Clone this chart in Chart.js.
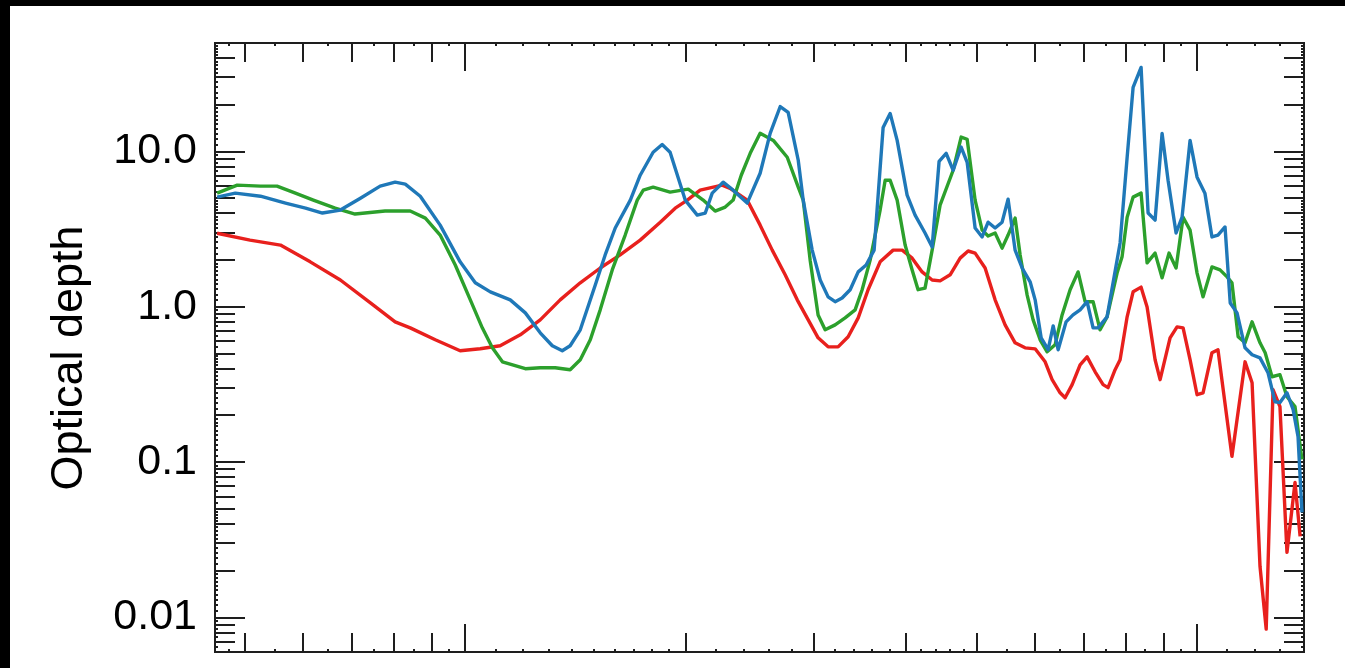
<!DOCTYPE html>
<html>
<head>
<meta charset="utf-8">
<script src="https://cdn.jsdelivr.net/npm/chart.js@4.4.1/dist/chart.umd.min.js"></script>
<style>
  html, body { margin: 0; padding: 0; background: #000; overflow: hidden; }
  #wrap { position: absolute; left: 10px; top: 6px; width: 1335px; height: 662px; background: #fff; }
  canvas { display: block; }
</style>
</head>
<body>
<div id="wrap"><canvas id="chart"></canvas></div>
<script>
// Wavelength samples and optical depth for each curve
const redWavelength = [0.458, 0.508, 0.559, 0.614, 0.675, 0.742, 0.802, 0.841, 0.910, 0.984, 1.048, 1.116, 1.189, 1.266, 1.348, 1.436, 1.529, 1.628, 1.734, 1.847, 1.936, 2.011, 2.094, 2.244, 2.301, 2.428, 2.529, 2.627, 2.736, 2.842, 2.942, 3.035, 3.132, 3.232, 3.336, 3.443, 3.552, 3.689, 3.843, 3.954, 4.080, 4.210, 4.345, 4.455, 4.598, 4.745, 4.866, 4.974, 5.133, 5.297, 5.466, 5.641, 5.821, 6.008, 6.200, 6.338, 6.499, 6.602, 6.750, 6.921, 7.075, 7.256, 7.440, 7.557, 7.727, 7.849, 8.025, 8.177, 8.385, 8.545, 8.763, 8.902, 9.186, 9.390, 9.570, 9.782, 10.0, 10.19, 10.48, 10.68, 11.16, 11.63, 11.89, 12.19, 12.43, 12.70, 12.98, 13.27, 13.61, 13.83];
const redDepth = [2.98, 2.69, 2.50, 1.95, 1.49, 1.06, 0.80, 0.733, 0.614, 0.522, 0.538, 0.562, 0.661, 0.825, 1.11, 1.43, 1.78, 2.16, 2.69, 3.51, 4.32, 4.87, 5.64, 6.08, 5.80, 4.87, 3.36, 2.32, 1.61, 1.11, 0.825, 0.632, 0.553, 0.553, 0.642, 0.850, 1.29, 1.95, 2.32, 2.32, 2.06, 1.68, 1.49, 1.47, 1.61, 2.06, 2.29, 2.22, 1.78, 1.11, 0.766, 0.587, 0.545, 0.537, 0.443, 0.340, 0.280, 0.260, 0.316, 0.424, 0.477, 0.382, 0.316, 0.302, 0.394, 0.457, 0.863, 1.25, 1.34, 1.00, 0.457, 0.340, 0.632, 0.744, 0.733, 0.457, 0.272, 0.280, 0.507, 0.530, 0.109, 0.443, 0.325, 0.0214, 0.00842, 0.293, 0.228, 0.0263, 0.0741, 0.0333];

const greenWavelength = [0.458, 0.488, 0.525, 0.553, 0.586, 0.620, 0.664, 0.707, 0.777, 0.841, 0.882, 0.924, 0.969, 1.016, 1.055, 1.089, 1.124, 1.170, 1.208, 1.266, 1.327, 1.391, 1.436, 1.482, 1.529, 1.588, 1.654, 1.718, 1.751, 1.806, 1.905, 2.017, 2.114, 2.195, 2.266, 2.323, 2.383, 2.451, 2.529, 2.636, 2.754, 2.851, 2.896, 2.960, 3.035, 3.103, 3.202, 3.304, 3.410, 3.486, 3.575, 3.689, 3.748, 3.807, 3.892, 3.991, 4.080, 4.157, 4.249, 4.345, 4.455, 4.642, 4.760, 4.851, 4.974, 5.085, 5.182, 5.297, 5.415, 5.518, 5.641, 5.731, 5.859, 5.970, 6.103, 6.239, 6.397, 6.540, 6.707, 6.877, 7.031, 7.210, 7.370, 7.534, 7.775, 7.898, 8.025, 8.177, 8.385, 8.545, 8.763, 8.958, 9.155, 9.361, 9.570, 9.782, 10.0, 10.19, 10.48, 10.75, 10.99, 11.16, 11.38, 11.63, 11.89, 12.19, 12.39, 12.66, 12.98, 13.27, 13.61, 13.91];
const greenDepth = [5.40, 6.08, 5.99, 5.99, 5.40, 4.87, 4.32, 3.96, 4.14, 4.14, 3.73, 2.90, 1.86, 1.11, 0.733, 0.545, 0.443, 0.418, 0.400, 0.406, 0.406, 0.394, 0.457, 0.614, 0.957, 1.73, 2.90, 4.87, 5.64, 5.90, 5.48, 5.73, 4.87, 4.14, 4.39, 4.87, 7.04, 9.75, 13.1, 11.8, 9.19, 5.90, 4.87, 2.00, 0.888, 0.712, 0.766, 0.850, 0.957, 1.29, 2.00, 4.20, 6.54, 6.54, 4.87, 2.50, 1.73, 1.29, 1.32, 2.32, 4.52, 7.58, 12.4, 12.0, 4.87, 3.12, 2.86, 2.99, 2.39, 2.90, 3.73, 2.16, 1.19, 0.825, 0.614, 0.514, 0.570, 0.888, 1.29, 1.68, 1.08, 1.08, 0.712, 0.863, 1.65, 2.10, 3.78, 5.09, 5.40, 1.92, 2.22, 1.54, 2.22, 1.78, 3.78, 3.12, 1.65, 1.16, 1.81, 1.73, 1.56, 1.43, 0.642, 0.587, 0.801, 0.587, 0.507, 0.355, 0.366, 0.264, 0.228, 0.104];

const blueWavelength = [0.458, 0.485, 0.525, 0.568, 0.605, 0.638, 0.675, 0.719, 0.765, 0.802, 0.828, 0.868, 0.924, 0.984, 1.032, 1.082, 1.152, 1.208, 1.266, 1.315, 1.357, 1.391, 1.436, 1.505, 1.553, 1.603, 1.681, 1.734, 1.806, 1.858, 1.905, 1.998, 2.075, 2.128, 2.175, 2.251, 2.323, 2.428, 2.529, 2.610, 2.694, 2.762, 2.851, 2.896, 2.979, 3.055, 3.132, 3.202, 3.273, 3.357, 3.443, 3.530, 3.620, 3.724, 3.807, 3.892, 4.016, 4.118, 4.249, 4.345, 4.441, 4.541, 4.642, 4.760, 4.851, 4.974, 5.085, 5.182, 5.297, 5.415, 5.518, 5.641, 5.767, 5.914, 6.008, 6.123, 6.259, 6.359, 6.459, 6.622, 6.769, 6.921, 7.075, 7.210, 7.323, 7.534, 7.849, 8.025, 8.177, 8.385, 8.572, 8.763, 8.958, 9.128, 9.361, 9.539, 9.782, 10.0, 10.25, 10.48, 10.68, 10.92, 11.10, 11.34, 11.63, 11.89, 12.19, 12.50, 12.78, 12.98, 13.27, 13.53, 13.74, 13.91];
const blueDepth = [5.09, 5.40, 5.16, 4.66, 4.32, 4.02, 4.20, 5.01, 5.99, 6.35, 6.17, 5.16, 3.36, 1.95, 1.43, 1.25, 1.11, 0.915, 0.681, 0.562, 0.522, 0.562, 0.712, 1.38, 2.16, 3.22, 4.87, 7.04, 9.90, 11.1, 9.90, 4.87, 3.90, 4.02, 5.40, 6.35, 5.64, 4.66, 7.25, 13.1, 19.5, 17.9, 8.79, 4.87, 2.32, 1.49, 1.16, 1.08, 1.14, 1.29, 1.68, 1.86, 2.32, 14.3, 17.6, 11.8, 5.24, 3.90, 2.99, 2.43, 8.66, 9.75, 7.58, 10.7, 8.53, 3.22, 2.82, 3.51, 3.22, 3.51, 4.94, 2.32, 1.78, 1.45, 1.11, 0.632, 0.530, 0.755, 0.530, 0.801, 0.888, 0.957, 1.08, 0.733, 0.733, 0.863, 2.58, 9.19, 25.9, 34.8, 4.02, 3.62, 13.1, 6.54, 2.99, 3.78, 11.8, 6.84, 5.40, 2.82, 2.90, 3.27, 1.06, 0.915, 0.545, 0.492, 0.470, 0.377, 0.245, 0.242, 0.280, 0.218, 0.146, 0.0475];

// Axis ticks
const depthTicks = [0.01, 0.1, 1, 10];
const depthTickLabels = ['0.01', '0.1', '1.0', '10.0'];
const wavelengthMajorTicks = [1, 10];
const wavelengthMediumTicks = [0.5, 0.6, 0.7, 0.8, 0.9, 2, 3, 4, 5, 6, 7, 8, 9];
const wavelengthMinorTicks = [0.475, 0.55, 0.65, 0.75, 0.85, 0.95, 1.1, 1.2, 1.3, 1.4, 1.5, 1.6, 1.7, 1.8, 1.9,
  2.2, 2.4, 2.6, 2.8, 3.2, 3.4, 3.6, 3.8, 4.2, 4.4, 4.6, 4.8, 5.5, 6.5, 7.5, 8.5, 9.5, 11, 12, 13];
const depthMinorSteps = [1.1, 1.2, 1.3, 1.4, 1.5, 1.6, 1.7, 1.8, 1.9, 2.2, 2.4, 2.6, 2.8, 3.2, 3.4, 3.6, 3.8,
  4.2, 4.4, 4.6, 4.8, 5.5, 6.5, 7.5, 8.5, 9.5];

const yTitle = 'Optical depth';
const FONT = "'Liberation Sans', Arial, Helvetica, sans-serif";

function pairs(xs, ys) {
  const n = Math.min(xs.length, ys.length);
  const out = [];
  for (let i = 0; i < n; i++) out.push({ x: xs[i], y: ys[i] });
  return out;
}

const frameAndTicks = {
  id: 'frameAndTicks',
  beforeDatasetsDraw(chart) {
    const { ctx, chartArea: a, scales: { x, y } } = chart;
    ctx.save();
    ctx.strokeStyle = '#1e1e1e';
    ctx.lineWidth = 2;
    ctx.lineCap = 'butt';
    const inY = v => v >= y.min && v <= y.max;
    const inX = v => v >= x.min && v <= x.max;
    const hTick = (v, len) => {
      if (!inY(v)) return;
      const p = Math.round(y.getPixelForValue(v));
      ctx.beginPath();
      ctx.moveTo(a.left, p); ctx.lineTo(a.left + len, p);
      ctx.moveTo(a.right, p); ctx.lineTo(a.right - len, p);
      ctx.stroke();
    };
    const vTick = (v, len) => {
      if (!inX(v)) return;
      const p = Math.round(x.getPixelForValue(v));
      ctx.beginPath();
      ctx.moveTo(p, a.bottom); ctx.lineTo(p, a.bottom - len);
      ctx.moveTo(p, a.top); ctx.lineTo(p, a.top + len);
      ctx.stroke();
    };
    for (let d = -3; d <= 2; d++) {
      const base = Math.pow(10, d);
      hTick(base, 30);
      for (let k = 2; k <= 9; k++) hTick(k * base, 20);
      depthMinorSteps.forEach(s => hTick(s * base, 3));
    }
    wavelengthMajorTicks.forEach(v => vTick(v, 28));
    wavelengthMediumTicks.forEach(v => vTick(v, 19));
    wavelengthMinorTicks.forEach(v => vTick(v, 3));
    ctx.strokeRect(a.left, a.top, a.right - a.left, a.bottom - a.top);
    ctx.restore();
  },
  afterDraw(chart) {
    const { ctx } = chart;
    ctx.save();
    ctx.fillStyle = '#000';
    ctx.font = '45px ' + FONT;
    ctx.textAlign = 'center';
    ctx.textBaseline = 'alphabetic';
    ctx.translate(72, 352);
    ctx.rotate(-Math.PI / 2);
    ctx.fillText(yTitle, 0, 0);
    ctx.restore();
  }
};

const lineStyle = { borderWidth: 3.4, pointRadius: 0, pointHoverRadius: 0, tension: 0, fill: false, borderJoinStyle: 'round' };

new Chart(document.getElementById('chart'), {
  type: 'line',
  data: {
    datasets: [
      { label: 'blue', data: pairs(blueWavelength, blueDepth), borderColor: '#1f78b8', order: 0, ...lineStyle },
      { label: 'green', data: pairs(greenWavelength, greenDepth), borderColor: '#2ca02c', order: 1, ...lineStyle },
      { label: 'red', data: pairs(redWavelength, redDepth), borderColor: '#e8201d', order: 2, ...lineStyle }
    ]
  },
  options: {
    responsive: true,
    maintainAspectRatio: false,
    devicePixelRatio: 1,
    animation: false,
    events: [],
    layout: { padding: { left: 0, top: 37, right: 41, bottom: 16 } },
    plugins: { legend: { display: false }, tooltip: { enabled: false }, title: { display: false } },
    scales: {
      x: { type: 'logarithmic', min: 0.455, max: 14, display: false },
      y: {
        type: 'logarithmic',
        position: 'left',
        min: 0.006,
        max: 50,
        afterBuildTicks: s => { s.ticks = depthTicks.map(v => ({ value: v, major: true })); },
        afterFit: s => { s.width = 205; s.paddingTop = 0; s.paddingBottom = 0; },
        grid: { display: false, drawTicks: false },
        border: { display: false },
        ticks: {
          autoSkip: false,
          padding: 18,
          color: '#000',
          font: { family: FONT, size: 43 },
          callback: (v, i) => depthTickLabels[i]
        }
      }
    }
  },
  plugins: [frameAndTicks]
});
</script>
</body>
</html>
